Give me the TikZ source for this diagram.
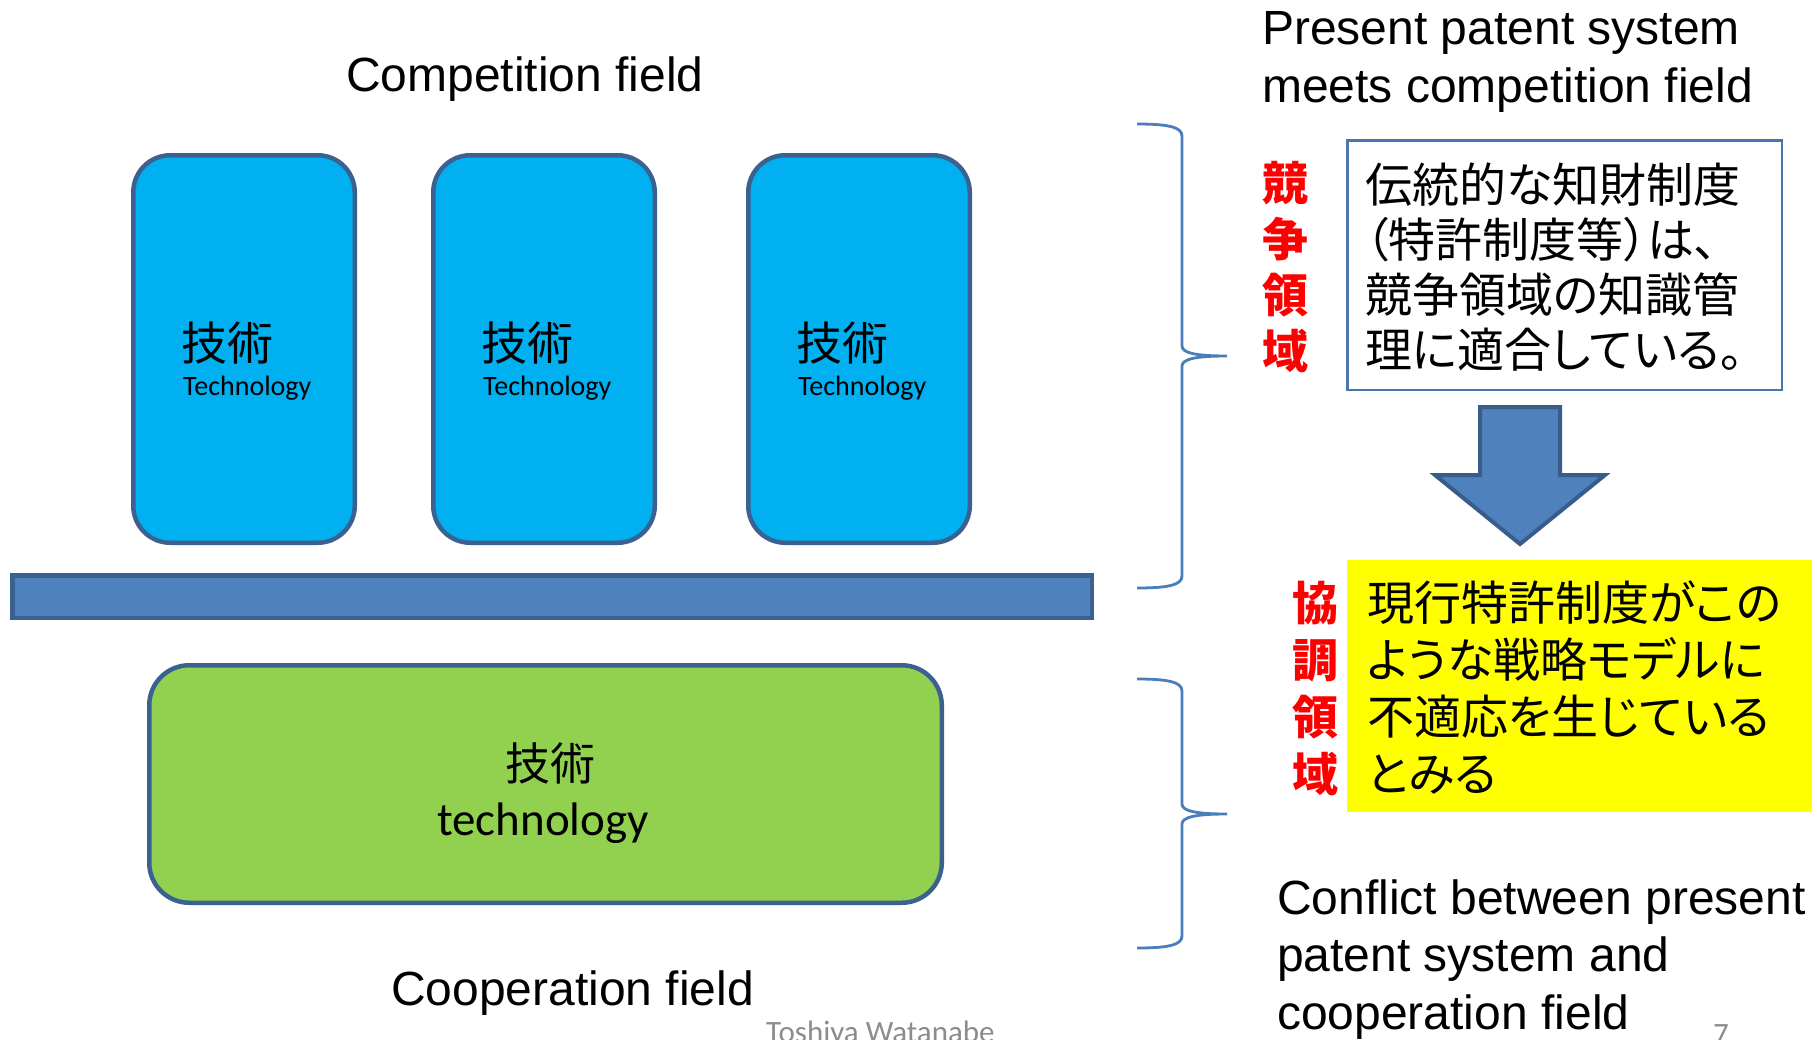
\documentclass[tikz,border=0pt]{standalone}
\usepackage{fontspec}
\setmainfont{Liberation Sans}
\newfontfamily\calib{Carlito}
\newfontfamily\jp{Noto Sans CJK JP}
\newfontfamily\jpp[RawFeature=+palt]{Noto Sans CJK JP}

\definecolor{techcyan}{HTML}{00B0F0}
\definecolor{edgeblue}{HTML}{3B6190}
\definecolor{barblue}{HTML}{4F81BD}
\definecolor{arrowedge}{HTML}{385D8A}
\definecolor{coopgreen}{HTML}{92D050}
\definecolor{bracecol}{HTML}{4A7EBB}
\definecolor{noteedge}{HTML}{4A76AD}
\definecolor{notegray}{HTML}{8C8C8C}
\definecolor{hiyellow}{HTML}{FFFF00}

\tikzset{
  techbox/.style={draw=edgeblue, line width=4.5pt, fill=techcyan,
    rounded corners=37pt, minimum width=221.5pt, minimum height=387.5pt, inner sep=0pt},
  coopbox/.style={draw=edgeblue, line width=4.5pt, fill=coopgreen,
    rounded corners=40pt, minimum width=792.5pt, minimum height=237.5pt, inner sep=0pt},
  basebar/.style={draw=edgeblue, line width=4.5pt, fill=barblue,
    minimum width=1079.5pt, minimum height=42.5pt, inner sep=0pt},
  notebox/.style={draw=noteedge, line width=2.5pt, fill=white,
    minimum width=434.5pt, minimum height=249.5pt, inner sep=0pt},
  yellowbox/.style={fill=hiyellow, minimum width=465pt, minimum height=252pt, inner sep=0pt},
  jtag/.style={font=\fontsize{46}{50}\selectfont\jp, inner sep=0pt, anchor=base west},
  etag/.style={font=\fontsize{28}{30}\selectfont\calib, inner sep=0pt, anchor=base west},
  heading/.style={font=\fontsize{48}{57.5}\selectfont, inner sep=0pt},
  redtag/.style={font=\fontsize{46}{56}\selectfont\jp\bfseries, text=red,
    align=center, inner sep=0pt, anchor=base},
  jbody/.style={font=\fontsize{47}{55}\selectfont\jpp, align=left,
    inner sep=0pt, anchor=base west},
  footer/.style={font=\fontsize{31}{31}\selectfont\calib, text=notegray,
    inner sep=0pt, anchor=base west},
  bracket/.style={draw=bracecol, line width=2.8pt}
}

\begin{document}
\begin{tikzpicture}[x=1pt, y=-1pt]
\useasboundingbox (0,0) rectangle (1817,1039);

% competition field: three technology blocks
\node[heading, anchor=base] (compf) at (525,91) {Competition field};

\node[techbox] (tech1) at (244,349) {};
\node[techbox] (tech2) at (544,349) {};
\node[techbox] (tech3) at (859,349) {};
\node[jtag] (tech1jp) at (181,360) {技術};
\node[etag] (tech1en) at (183,395) {Technology};
\node[jtag] (tech2jp) at (481,360) {技術};
\node[etag] (tech2en) at (483,395) {Technology};
\node[jtag] (tech3jp) at (796,360) {技術};
\node[etag] (tech3en) at (798,395) {Technology};

% dividing bar
\node[basebar] (base) at (552,596.5) {};

% cooperation field: shared technology block
\node[coopbox] (coop) at (545.5,784) {};
\node[font=\fontsize{45}{50}\selectfont\jp, inner sep=0pt, anchor=base] (coopjp) at (550,780) {技術};
\node[font=\fontsize{47}{50}\selectfont\calib, inner sep=0pt, anchor=base] (coopen) at (543,835) {technology};
\node[heading, anchor=base] (coopf) at (572.5,1005) {Cooperation field};

% braces
\draw[bracket] (1137,124) .. controls (1168,124) and (1182,127) .. (1182,136)
  -- (1182,346) .. controls (1182,353) and (1196,356) .. (1227,356)
  .. controls (1196,356) and (1182,359) .. (1182,366)
  -- (1182,576) .. controls (1182,585) and (1168,588) .. (1137,588);
\draw[bracket] (1137,679) .. controls (1168,679) and (1182,682) .. (1182,691)
  -- (1182,804) .. controls (1182,811) and (1196,814) .. (1227,814)
  .. controls (1196,814) and (1182,817) .. (1182,824)
  -- (1182,936) .. controls (1182,945) and (1168,948) .. (1137,948);

% right column (multi-line texts are anchored at their last baseline)
\node[heading, anchor=base west, align=left] (present) at (1262,102)
  {Present patent system\\meets competition field};

\node[redtag] (compv) at (1285,368) {競\\争\\領\\域};
\node[notebox] (note) at (1564.5,265) {};
\node[jbody] (notetext) at (1365,367)
  {伝統的な知財制度\\（特許制度等）は、\\競争領域の知識管\\理に適合している。};

% block arrow
\draw[draw=arrowedge, line width=4pt, fill=barblue, line join=miter]
  (1480,407) -- (1560,407) -- (1560,475) -- (1605,475) -- (1520,544)
  -- (1435,475) -- (1480,475) -- cycle;

\node[yellowbox] (yel) at (1579.5,686) {};
\node[redtag, font=\fontsize{46}{57}\selectfont\jp\bfseries] (coopv) at (1315,791) {協\\調\\領\\域};
\node[jbody, font=\fontsize{47}{57}\selectfont\jpp] (yeltext) at (1367,791)
  {現行特許制度がこの\\ような戦略モデルに\\不適応を生じている\\とみる};

\node[heading, anchor=base west, align=left] (conflict) at (1277,1029)
  {Conflict between present\\patent system and\\cooperation field};

% footer
\node[footer] (author) at (766,1042) {Toshiya Watanabe};
\node[footer] (pagenum) at (1713,1044) {7};
\end{tikzpicture}
\end{document}
